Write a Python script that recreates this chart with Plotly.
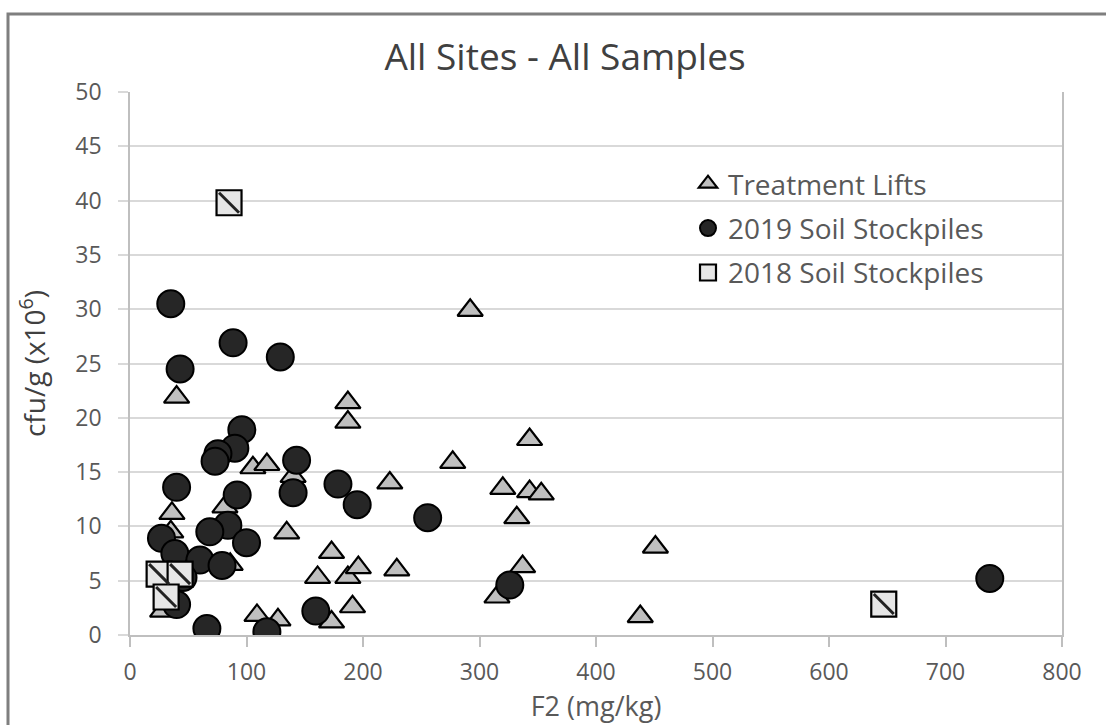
import plotly.graph_objects as go

# ---------------- data ----------------
lifts_x = [28, 36, 40, 35, 86, 81.5, 105.5, 117.5, 134.5, 109, 127, 140, 187, 187,
           173, 161, 187, 196, 229, 191, 173, 223, 277, 343, 320, 343, 353, 332,
           337, 315, 292, 451, 438]
lifts_y = [2.2, 11.2, 21.9, 9.5, 6.5, 11.8, 15.4, 15.7, 9.4, 1.8, 1.4, 14.6, 21.4, 19.6,
           7.6, 5.3, 5.3, 6.2, 6.0, 2.6, 1.2, 14.0, 15.9, 18.0, 13.5, 13.2, 13.0, 10.8,
           6.3, 3.5, 29.9, 8.1, 1.7]

soil2019_x = [35, 43, 88.5, 129, 96, 90, 75.5, 73, 40, 92, 84, 68.5, 100, 27, 38.5,
              60, 79, 45.5, 40, 66, 117.5, 143, 140, 178.5, 195, 255.5, 159.5, 326, 738]
soil2019_y = [30.5, 24.5, 26.9, 25.6, 18.9, 17.2, 16.7, 16.0, 13.6, 12.9, 10.1, 9.5, 8.5,
              8.9, 7.5, 6.9, 6.4, 5.3, 2.8, 0.6, 0.3, 16.1, 13.1, 13.9, 12.0, 10.8, 2.2,
              4.6, 5.2]

soil2018_x = [85, 25, 43, 31, 647]
soil2018_y = [39.8, 5.6, 5.6, 3.5, 2.85]

series_names = ["Treatment Lifts", "2019 Soil Stockpiles", "2018 Soil Stockpiles"]
x_ticks = [0, 100, 200, 300, 400, 500, 600, 700, 800]
y_ticks = [0, 5, 10, 15, 20, 25, 30, 35, 40, 45, 50]

FONT = "Open Sans"
GRAY_TXT = "#595959"

fig = go.Figure()

fig.add_trace(go.Scatter(
    x=lifts_x, y=lifts_y, mode="markers", name=series_names[0],
    legendgroup="a",
    marker=dict(symbol="triangle-up", size=22, color="#bfbfbf",
                line=dict(color="#000000", width=2.2)),
))
fig.add_trace(go.Scatter(
    x=soil2019_x, y=soil2019_y, mode="markers", name=series_names[1],
    legendgroup="b",
    marker=dict(symbol="circle", size=27, color="#262626",
                line=dict(color="#000000", width=2)),
))
fig.add_trace(go.Scatter(
    x=soil2018_x, y=soil2018_y, mode="markers", name=series_names[2],
    legendgroup="c",
    marker=dict(symbol="square", size=25, color="#e6e6e6",
                line=dict(color="#000000", width=2.2)),
))
# hatch overlay for the 2018 squares
fig.add_trace(go.Scatter(
    x=soil2018_x, y=soil2018_y, mode="markers", showlegend=False,
    legendgroup="c", hoverinfo="skip",
    marker=dict(symbol="line-nw", size=20,
                line=dict(color="#222222", width=3)),
))

fig.update_layout(
    width=1106, height=725,
    margin=dict(l=130, r=44, t=92, b=90, autoexpand=False),
    paper_bgcolor="white", plot_bgcolor="white",
    font=dict(family=FONT, color=GRAY_TXT),
    title=dict(text="All Sites - All Samples", x=565 / 1106, xanchor="center",
               y=1 - 57 / 725, yanchor="middle", xref="container", yref="container",
               font=dict(family=FONT, size=37, color="#404040")),
    showlegend=True,
    legend=dict(x=(688 - 130) / 932, y=(635 - 159) / 543, xanchor="left", yanchor="top",
                font=dict(family=FONT, size=28, color=GRAY_TXT),
                bgcolor="rgba(0,0,0,0)", tracegroupgap=5,
                itemsizing="trace"),
    shapes=[dict(type="rect", xref="paper", yref="paper",
                 x0=(8 - 130) / 932, x1=1.2, y0=-0.6, y1=(635 - 14) / 543,
                 line=dict(color="#7f7f7f", width=3), fillcolor="rgba(0,0,0,0)",
                 layer="below")],
)

fig.update_xaxes(
    range=[0, 800], tickvals=x_ticks, showgrid=False, zeroline=False,
    showline=True, linecolor="#bfbfbf", linewidth=1.5,
    ticks="outside", ticklen=10, tickcolor="#bfbfbf", tickwidth=1.5,
    ticklabelstandoff=6,
    tickfont=dict(family=FONT, size=23, color=GRAY_TXT),
    title=dict(text="F2 (mg/kg)", standoff=0,
               font=dict(family=FONT, size=27, color=GRAY_TXT)),
)
fig.update_yaxes(
    range=[0, 50], tickvals=y_ticks, showgrid=True, gridcolor="#d9d9d9", gridwidth=1.5,
    zeroline=False, showline=True, linecolor="#bfbfbf", linewidth=1.5, mirror=True,
    ticks="outside", ticklen=10, tickcolor="#d9d9d9", tickwidth=1.5,
    ticklabelstandoff=12,
    tickfont=dict(family=FONT, size=23, color=GRAY_TXT),
    title=dict(text="cfu/g (x10<sup>6</sup>)", standoff=22,
               font=dict(family=FONT, size=28, color="#404040")),
)

fig.write_html("out.html", config={"displayModeBar": False},
               post_script="document.body.style.margin='0';document.body.style.padding='0';")
